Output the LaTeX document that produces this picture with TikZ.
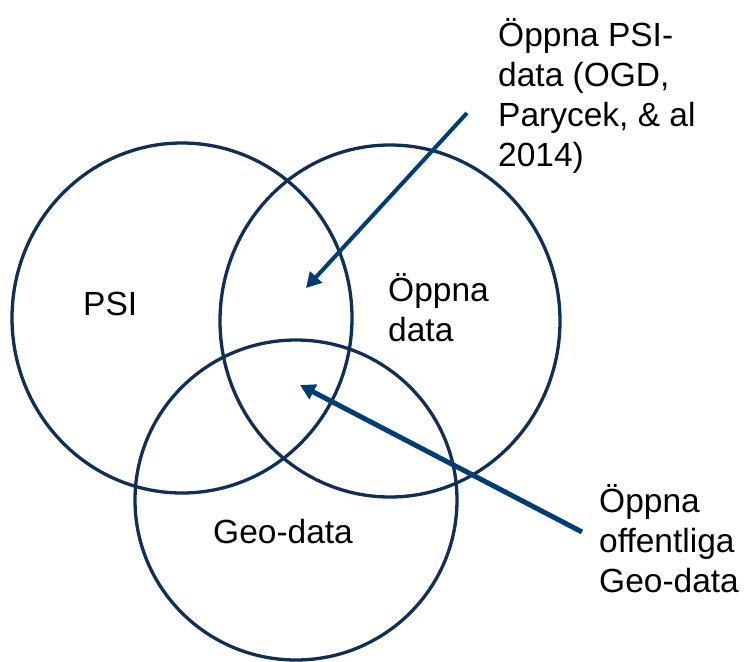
\documentclass[tikz,border=0pt]{standalone}
\usepackage{fontspec}
\setmainfont{Liberation Sans}
\usetikzlibrary{arrows.meta}
\definecolor{vennfarg}{RGB}{16,46,86}
\definecolor{pilfarg}{RGB}{0,61,117}

\begin{document}
\begin{tikzpicture}[x=1pt,y=-1pt,
    mangd/.style={draw=vennfarg,line width=3.3pt},
    pil/.style={draw=pilfarg,line width=#1,-{Triangle[length=15pt,width=16pt]}},
    etikett/.style={inner sep=0pt,font=\fontsize{33.5}{40}\selectfont,align=left}]
  \useasboundingbox (0,0) rectangle (748,662);
  % de tre mängderna (PSI, öppna data, geodata)
  \draw[mangd] (182,318) ellipse [x radius=170pt,y radius=175pt];
  \draw[mangd] (390,321) ellipse [x radius=170pt,y radius=176pt];
  \draw[mangd] (296,500) ellipse [x radius=161pt,y radius=160pt];
  % etiketter i cirklarna
  \node[etikett,anchor=base west] (psi) at (83,315) {PSI};
  \node[etikett,anchor=north west] (oppna) at (388,273) {Öppna\\data};
  \node[etikett,anchor=base west] (geo) at (213,543) {Geo-data};
  % förklarande texter till höger
  \node[etikett,anchor=north west] (ogd) at (498,18) {Öppna PSI-\\data (OGD,\\Parycek, \& al\\2014)};
  \node[etikett,anchor=north west] (ogeo) at (599,484) {Öppna\\offentliga\\Geo-data};
  % pilar in mot snitten
  \coordinate (ogdfot) at (467,113);
  \coordinate (ogdspets) at (306,288);
  \coordinate (ogeofot) at (582,532);
  \coordinate (ogeospets) at (300,385);
  \draw[pil=4pt] (ogdfot) -- (ogdspets);
  \draw[pil=5pt] (ogeofot) -- (ogeospets);
\end{tikzpicture}
\end{document}
